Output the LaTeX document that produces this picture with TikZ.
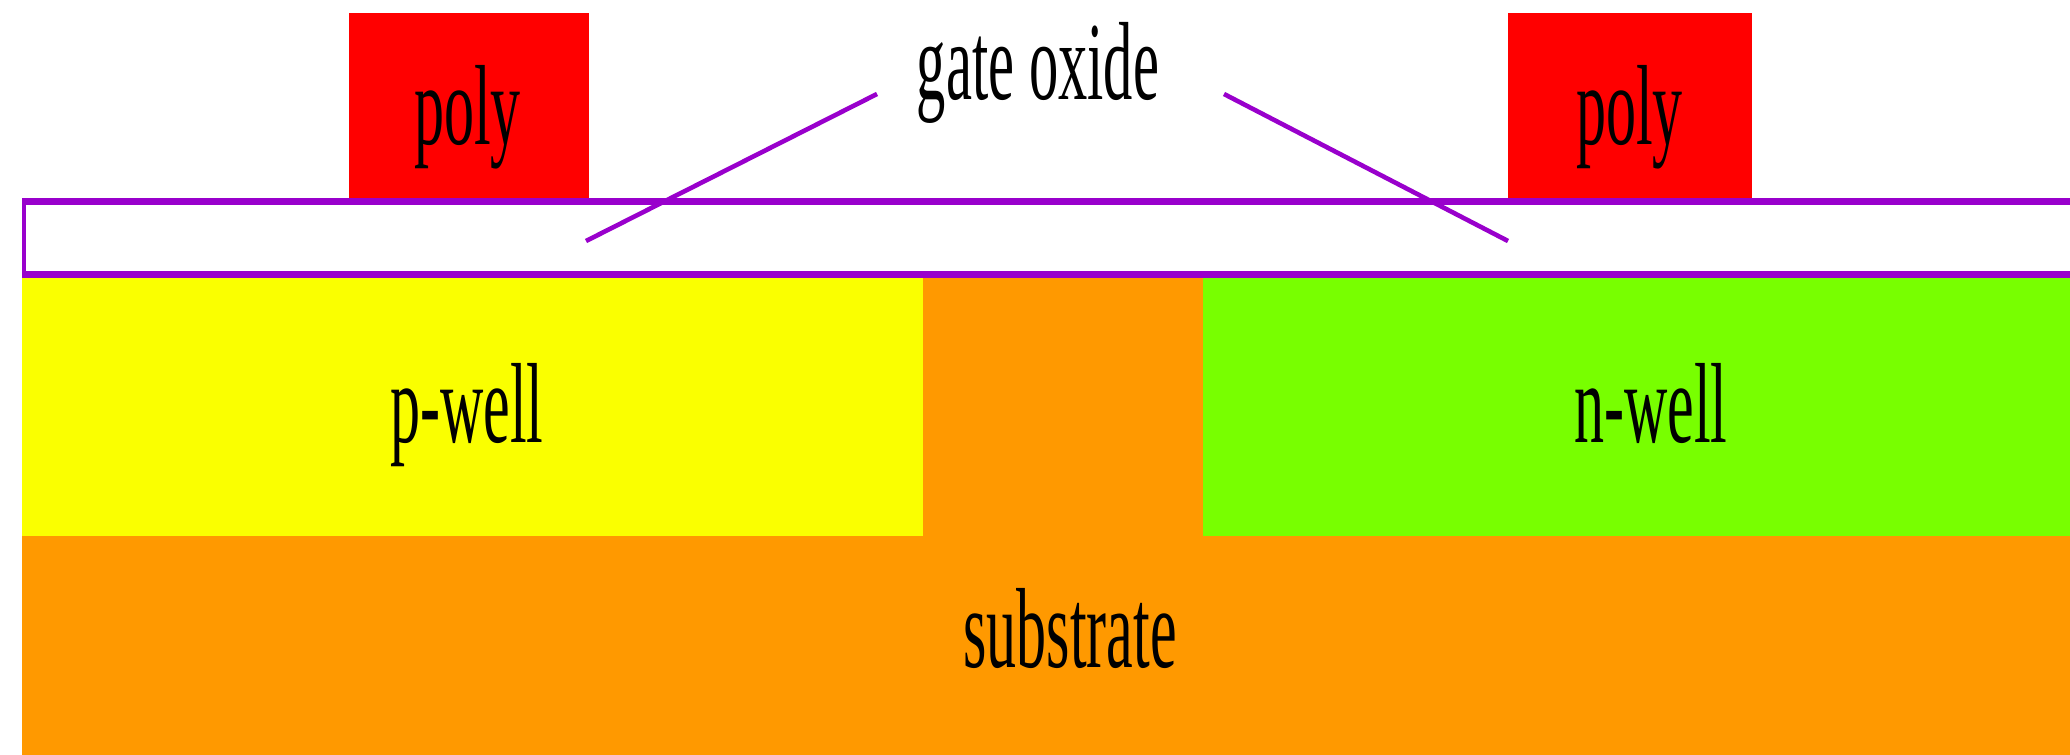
\documentclass[tikz,border=0pt]{standalone}
\usepackage{fontspec}
\setmainfont{Liberation Serif}
\definecolor{oxidecol}{HTML}{9900CC}
\definecolor{subcol}{HTML}{FF9900}
\definecolor{pwellcol}{HTML}{FAFF00}
\definecolor{nwellcol}{HTML}{78FF00}
\newcommand{\stretchedtext}[1]{\scalebox{1}[1.9]{\fontsize{60}{60}\selectfont #1}}
\tikzset{
  layerlabel/.style={inner sep=0pt,outer sep=0pt,anchor=base,text=black,font=\fontsize{60}{60}\selectfont},
  leader/.style={draw=oxidecol,line width=4.6pt}
}
\begin{document}
\begin{tikzpicture}[x=1pt,y=-1pt]
\useasboundingbox (0,0) rectangle (2070,755);
% substrate and wells
\fill[subcol] (22,278) rectangle (2070,755);
\fill[pwellcol] (22,278) rectangle (923,536);
\fill[nwellcol] (1203,278) rectangle (2070,536);
% poly gates
\fill[red] (349,13) rectangle (589,198);
\fill[red] (1508,13) rectangle (1752,198);
% gate oxide
\fill[oxidecol] (22,198) rectangle (2070,278);
\fill[white] (26,205) rectangle (2070,271);
% labels
\node[layerlabel] (polyL) at (467.5,144) {\stretchedtext{poly}};
\node[layerlabel] (polyR) at (1629.5,144) {\stretchedtext{poly}};
\node[layerlabel] (oxide) at (1038,99) {\scalebox{1}[1.9]{\fontsize{58.5}{60}\selectfont gate oxide}};
\node[layerlabel] (pwell) at (467,442) {\stretchedtext{p-well}};
\node[layerlabel] (nwell) at (1651,442) {\stretchedtext{n-well}};
\node[layerlabel] (substrate) at (1070,667) {\stretchedtext{substrate}};
% leaders
\coordinate (leadLa) at (877,94);
\coordinate (leadLb) at (586,241);
\coordinate (leadRa) at (1224,94);
\coordinate (leadRb) at (1508,241);
\draw[leader] (leadLa) -- (leadLb);
\draw[leader] (leadRa) -- (leadRb);
\end{tikzpicture}
\end{document}
